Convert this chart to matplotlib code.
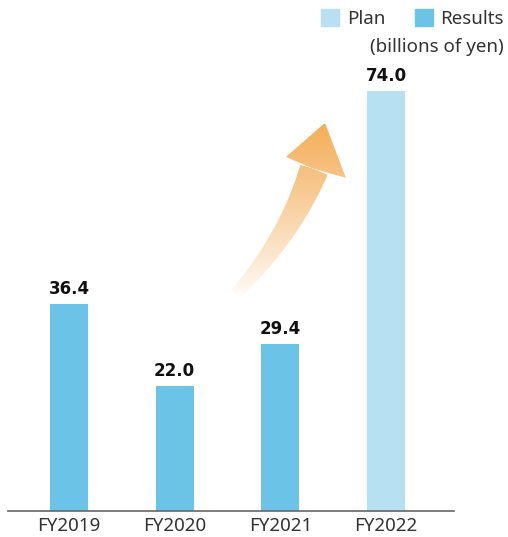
import matplotlib
matplotlib.use('Agg')
from matplotlib import pyplot as plt
from matplotlib.patches import Patch, Polygon
import numpy as np

years = ['FY2019', 'FY2020', 'FY2021', 'FY2022']
values = [36.4, 22.0, 29.4, 74.0]
kinds = ['Results', 'Results', 'Results', 'Plan']

RESULTS_COLOR = '#6cc3e8'
PLAN_COLOR = '#b7e0f3'
colors = [PLAN_COLOR if k == 'Plan' else RESULTS_COLOR for k in kinds]

plt.rcParams['font.family'] = ['Noto Sans', 'DejaVu Sans']

W, H = 508, 537
fig = plt.figure(figsize=(W / 100, H / 100), dpi=100)
# axes spans from the axis line (px 8..454) up to the top of the figure
ax = fig.add_axes([8 / W, 26 / H, 446 / W, 511 / H])

x = np.arange(len(years))
ax.bar(x, values, width=0.36, color=colors, zorder=2)
for xi, v in zip(x, values):
    ax.text(xi, v + 1.1, f'{v:.1f}', ha='center', va='bottom',
            fontsize=12, fontweight='bold', family='DejaVu Sans',
            color='#111111')

ax.set_xlim(-0.577, 3.643)
ax.set_ylim(0, 90.0)
ax.set_xticks(x)
ax.set_xticklabels(years, fontsize=13.5, color='#333333')
ax.tick_params(axis='x', length=0, pad=4)
ax.set_yticks([])
for s in ['left', 'right', 'top']:
    ax.spines[s].set_visible(False)
ax.spines['bottom'].set_color('#666666')
ax.spines['bottom'].set_linewidth(1.2)

# curved gradient arrow (decoration), built in pixel space then mapped to data
def px2data(px, py):
    return (px - 69) / 105.7, (511 - py) / 5.676

t = np.linspace(0, 1, 40)
p0, p1, p2 = np.array([236, 294]), np.array([290, 236]), np.array([314, 170])
c = ((1 - t) ** 2)[:, None] * p0 + (2 * (1 - t) * t)[:, None] * p1 + (t ** 2)[:, None] * p2
d = (-2 * (1 - t))[:, None] * p0 + (2 * (1 - 2 * t))[:, None] * p1 + (2 * t)[:, None] * p2
d = d / np.linalg.norm(d, axis=1)[:, None]
nrm = np.column_stack([d[:, 1], -d[:, 0]])
half = 6 + 8.5 * t
left = c - nrm * half[:, None]
right = c + nrm * half[:, None]
head = np.array([[346, 178], [325, 123], [286, 157]])
outline = np.vstack([right, head, left[::-1]])
poly_data = np.array([px2data(*p) for p in outline])
arrow = Polygon(poly_data, closed=True, facecolor='none', edgecolor='none')
ax.add_patch(arrow)

grad = np.linspace(0, 1, 256)[:, None]
rgba = np.zeros((256, 1, 4))
rgba[..., 0] = 0.96
rgba[..., 1] = 0.68
rgba[..., 2] = 0.34
rgba[..., 3] = grad ** 0.9
x0, y0 = px2data(225, 300)
x1, y1 = px2data(350, 125)
img = ax.imshow(rgba, extent=[x0, x1, y0, y1], origin='lower',
                aspect='auto', zorder=3, interpolation='bilinear')
img.set_clip_path(arrow)

handles = [Patch(color=PLAN_COLOR, label='Plan'),
           Patch(color=RESULTS_COLOR, label='Results')]
fig.legend(handles=handles, loc='upper right', bbox_to_anchor=(1.025, 1.014),
           ncol=2, frameon=False, fontsize=13.5, handlelength=0.95,
           handleheight=0.95, handletextpad=0.4, columnspacing=1.6,
           labelcolor='#333333')
fig.text(504 / W, 1 - 47 / H, '(billions of yen)', ha='right', va='center',
         fontsize=13.5, color='#333333')

fig.savefig('out.png', dpi=100)
